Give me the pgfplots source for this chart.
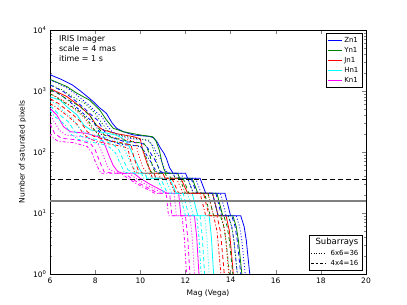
\documentclass[border=0pt]{standalone}
\usepackage{fontspec}
\setmainfont{DejaVu Sans}
\usepackage{pgfplots}
\pgfplotsset{compat=1.18}
\definecolor{mblue}{rgb}{0,0,1}
\definecolor{mgreen}{rgb}{0,0.5,0}
\definecolor{mred}{rgb}{1,0,0}
\definecolor{mcyan}{rgb}{0,1,1}
\definecolor{mmag}{rgb}{1,0,1}
\definecolor{mgray}{rgb}{0.5,0.5,0.5}
\tikzset{
  sol/.style={line width=0.8pt, solid},
  dt/.style={line width=0.8pt, dash pattern=on 1pt off 2pt},
  ds/.style={line width=0.8pt, dash pattern=on 4pt off 3pt},
  dd/.style={line width=0.8pt, dash pattern=on 3pt off 2pt on 1pt off 2pt},
}
\begin{document}
\begin{tikzpicture}[font=\fontsize{8}{9.6}\selectfont]
\path[use as bounding box] (-50pt,-31pt) rectangle (357pt,274pt);
\begin{axis}[
  at={(0,0)}, anchor=south west,
  scale only axis, width=316pt, height=244pt,
  xmin=6, xmax=20, ymin=1, ymax=10000, ymode=log,
  xtick={6,8,10,12,14,16,18,20}, xticklabels={6,8,10,12,14,16,18,20},
  ytick={1,10,100,1000,10000},
  yticklabels={10\textsuperscript{0},10\textsuperscript{1},10\textsuperscript{2},10\textsuperscript{3},10\textsuperscript{4}},
  tick label style={font=\fontsize{7.5}{9}\selectfont},
  label style={font=\fontsize{7.5}{9}\selectfont},
  xlabel={Mag (Vega)}, ylabel={Number of saturated pixels},
  tick align=inside, major tick length=4pt, minor tick length=2pt,
  axis line style={line width=0.8pt},
  legend style={at={(0.988,0.986)}, anchor=north east, font=\fontsize{7}{8}\selectfont,
    draw=black, line width=0.6pt, inner sep=1.5pt, row sep=-0.5pt},
  legend cell align=left,
  legend image code/.code={\draw[#1, line width=0.9pt] (0pt,0pt) -- (14pt,0pt);},
]
% ---------- Zn1 (blue)
\addplot[mblue, sol] coordinates {(6.0,1850)(6.5,1550)(7.0,1250)(7.35,1000)(7.9,680)(8.2,530)(8.5,430)(8.75,300)(8.95,245)(9.25,215)(9.7,190)(10.4,180)(10.6,170)(10.75,145)(10.9,115)(11.05,95)(11.15,80)(11.3,55)(11.45,45)(12.0,45)(12.1,37)(12.65,37)(12.9,21)(13.75,21)(14.0,9)(14.45,9)(14.6,6)(14.7,3.5)(14.8,1.5)(14.85,1)};
\addlegendentry{Zn1}
\addplot[mgreen, sol] coordinates {(6.0,1550)(6.75,1180)(7.2,915)(7.75,710)(8.2,490)(8.5,335)(8.8,245)(9.25,215)(10.0,190)(10.55,178)(10.7,150)(10.85,105)(10.95,70)(11.05,52)(11.15,45)(11.65,45)(11.75,37)(12.3,37)(12.55,21)(13.4,21)(13.65,9)(14.1,9)(14.25,6)(14.35,3.5)(14.45,1.5)(14.5,1)};
\addlegendentry{Yn1}
\addplot[mred, sol] coordinates {(6.0,1100)(6.75,810)(7.35,550)(7.75,405)(8.05,275)(8.35,230)(8.95,200)(9.7,178)(10.0,165)(10.1,110)(10.3,65)(10.5,45)(11.0,45)(11.1,37)(11.8,37)(12.1,21)(13.2,21)(13.45,9)(13.8,9)(13.95,5)(14.05,2)(14.12,1)};
\addlegendentry{Jn1}
\addplot[mcyan, sol] coordinates {(6.0,800)(6.45,710)(6.75,550)(7.2,405)(7.5,275)(7.8,230)(8.2,215)(8.9,190)(9.2,170)(9.45,138)(9.65,95)(9.85,65)(10.0,50)(10.1,45)(10.6,45)(10.7,37)(11.3,37)(11.6,21)(12.3,21)(12.55,9)(13.05,9)(13.15,4)(13.22,1.5)(13.25,1)};
\addlegendentry{Hn1}
\addplot[mmag, sol] coordinates {(6.0,520)(6.3,405)(6.6,260)(6.9,215)(7.6,203)(8.2,175)(8.4,140)(8.6,90)(8.8,60)(9.0,48)(9.2,45)(9.7,45)(10.0,37)(10.4,30)(10.9,24)(11.2,21)(11.7,21)(11.8,9)(12.4,9)(12.5,4)(12.57,1.5)(12.6,1)};
\addlegendentry{Kn1}
% ---------- variants blue
\addplot[mblue, dt, forget plot] coordinates {(6.0,1520)(6.3,1360)(6.8,1100)(7.15,880)(7.7,600)(8.0,465)(8.3,380)(8.55,265)(8.75,215)(9.05,190)(9.5,167)(10.2,158)(10.4,150)(10.55,128)(10.7,101)(10.85,84)(10.95,70)(11.1,50)(11.25,45)(11.8,45)(11.9,37)(12.45,37)(12.7,21)(13.55,21)(13.8,9)(14.25,9)(14.4,6)(14.5,3.5)(14.6,1.5)(14.65,1)};
\addplot[mblue, ds, forget plot] coordinates {(6.0,1260)(6.1,1210)(6.6,975)(6.95,780)(7.5,530)(7.8,415)(8.1,335)(8.35,235)(8.55,190)(8.85,168)(9.3,148)(10.0,140)(10.2,133)(10.35,113)(10.5,90)(10.65,74)(10.75,62)(10.9,48)(11.05,45)(11.6,45)(11.7,37)(12.25,37)(12.5,21)(13.35,21)(13.6,9)(14.05,9)(14.2,6)(14.3,3.5)(14.4,1.5)(14.45,1)};
\addplot[mblue, dd, forget plot] coordinates {(6.0,1065)(6.45,875)(6.8,700)(7.35,475)(7.65,370)(7.95,300)(8.2,210)(8.4,170)(8.7,150)(9.15,133)(9.85,126)(10.05,119)(10.2,101)(10.35,80)(10.5,66)(10.6,56)(10.75,46)(11.45,45)(11.55,37)(12.1,37)(12.35,21)(13.2,21)(13.45,9)(13.9,9)(14.05,6)(14.15,3.5)(14.25,1.5)(14.3,1)};
% ---------- variants green
\addplot[mgreen, dt, forget plot] coordinates {(6.0,1275)(6.55,1040)(7.0,805)(7.55,625)(8.0,430)(8.3,295)(8.6,215)(9.05,190)(9.8,167)(10.35,157)(10.5,132)(10.65,92)(10.75,62)(10.85,50)(10.95,45)(11.45,45)(11.55,37)(12.1,37)(12.35,21)(13.2,21)(13.45,9)(13.9,9)(14.05,6)(14.15,3.5)(14.25,1.5)(14.3,1)};
\addplot[mgreen, ds, forget plot] coordinates {(6.0,1050)(6.35,920)(6.8,715)(7.35,555)(7.8,380)(8.1,260)(8.4,190)(8.85,168)(9.6,148)(10.15,139)(10.3,117)(10.45,82)(10.55,55)(10.65,48)(10.75,45)(11.25,45)(11.35,37)(11.9,37)(12.15,21)(13.0,21)(13.25,9)(13.7,9)(13.85,6)(13.95,3.5)(14.05,1.5)(14.1,1)};
\addplot[mgreen, dd, forget plot] coordinates {(6.0,900)(6.2,825)(6.65,640)(7.2,500)(7.65,343)(7.95,235)(8.25,172)(8.7,150)(9.45,133)(10.0,125)(10.15,105)(10.3,74)(10.4,49)(10.6,45)(11.1,45)(11.2,37)(11.75,37)(12.0,21)(12.85,21)(13.1,9)(13.55,9)(13.7,6)(13.8,3.5)(13.9,1.5)(13.95,1)};
% ---------- variants red
\addplot[mred, dt, forget plot] coordinates {(6.0,905)(6.55,713)(7.15,484)(7.55,356)(7.85,242)(8.15,202)(8.75,176)(9.5,157)(9.8,145)(9.9,97)(10.1,57)(10.3,45)(10.8,45)(10.9,37)(11.6,37)(11.9,21)(13.0,21)(13.25,9)(13.6,9)(13.75,5)(13.85,2)(13.92,1)};
\addplot[mred, ds, forget plot] coordinates {(6.0,750)(6.35,632)(6.95,429)(7.35,316)(7.65,215)(7.95,180)(8.55,156)(9.3,139)(9.6,129)(9.7,86)(9.9,51)(10.1,45)(10.6,45)(10.7,37)(11.4,37)(11.7,21)(12.8,21)(13.05,9)(13.4,9)(13.55,5)(13.65,2)(13.72,1)};
\addplot[mred, dd, forget plot] coordinates {(6.0,615)(6.2,567)(6.8,385)(7.2,284)(7.5,193)(7.8,161)(8.4,140)(9.15,125)(9.45,116)(9.55,77)(9.75,46)(9.95,45)(10.45,45)(10.55,37)(11.25,37)(11.55,21)(12.65,21)(12.9,9)(13.25,9)(13.4,5)(13.5,2)(13.57,1)};
% ---------- variants cyan
\addplot[mcyan, dt, forget plot] coordinates {(6.0,670)(6.25,625)(6.55,484)(7.0,356)(7.3,242)(7.6,202)(8.0,189)(8.7,167)(9.0,150)(9.25,121)(9.45,84)(9.65,57)(9.8,50)(9.9,45)(10.4,45)(10.5,37)(11.1,37)(11.4,21)(12.1,21)(12.35,9)(12.85,9)(12.95,4)(13.02,1.5)(13.05,1)};
\addplot[mcyan, ds, forget plot] coordinates {(6.0,562)(6.05,554)(6.35,429)(6.8,316)(7.1,215)(7.4,180)(7.8,168)(8.5,148)(8.8,133)(9.05,108)(9.25,74)(9.45,51)(9.6,48)(9.7,45)(10.2,45)(10.3,37)(10.9,37)(11.2,21)(11.9,21)(12.15,9)(12.65,9)(12.75,4)(12.82,1.5)(12.85,1)};
\addplot[mcyan, dd, forget plot] coordinates {(6.0,476)(6.2,385)(6.65,284)(6.95,193)(7.25,161)(7.65,150)(8.35,133)(8.65,119)(8.9,97)(9.1,66)(9.3,46)(10.05,45)(10.15,37)(10.75,37)(11.05,21)(11.75,21)(12.0,9)(12.5,9)(12.6,4)(12.67,1.5)(12.7,1)};
% ---------- variants magenta
\addplot[mmag, dt, forget plot] coordinates {(6.0,390)(6.1,356)(6.4,229)(6.7,189)(7.4,179)(8.0,154)(8.2,123)(8.4,79)(8.6,53)(8.8,48)(9.0,45)(9.5,45)(9.8,37)(10.2,30)(10.7,24)(11.0,21)(11.5,21)(11.6,9)(12.2,9)(12.3,4)(12.37,1.5)(12.4,1)};
\addplot[mmag, ds, forget plot] coordinates {(6.0,290)(6.2,203)(6.5,168)(7.2,158)(7.8,137)(8.0,109)(8.2,70)(8.4,47)(8.6,46)(8.8,45)(9.3,45)(9.6,37)(10.0,30)(10.5,24)(10.8,21)(11.3,21)(11.4,9)(12.0,9)(12.1,4)(12.17,1.5)(12.2,1)};
\addplot[mmag, dd, forget plot] coordinates {(6.0,200)(6.05,180)(6.35,150)(7.05,142)(7.65,123)(7.85,98)(8.05,63)(8.25,45)(9.15,45)(9.45,37)(9.85,30)(10.35,24)(10.65,21)(11.15,21)(11.25,9)(11.85,9)(11.95,4)(12.02,1.5)(12.05,1)};
% ---------- subarray levels
\addplot[black, line width=0.9pt, dash pattern=on 5pt off 3pt, forget plot] coordinates {(6,36)(20,36)};
\addplot[mgray, line width=2pt, forget plot] coordinates {(6,16)(20,16)};
\node[anchor=north west, align=left, inner sep=0pt, font=\fontsize{8}{10}\selectfont] at (rel axis cs:0.028,0.976) {IRIS Imager\\scale = 4 mas\\itime = 1 s};
\end{axis}
\begin{axis}[
  at={(0,0)}, anchor=south west,
  scale only axis, width=316pt, height=244pt,
  hide axis, xmin=0, xmax=1, ymin=0, ymax=1,
  legend style={at={(0.988,0.014)}, anchor=south east, font=\fontsize{7}{8}\selectfont,
    draw=black, line width=0.6pt, inner sep=1.5pt, row sep=-0.5pt},
  legend cell align=right,
  legend image code/.code={\draw[#1, line width=0.7pt] (0pt,0pt) -- (14pt,0pt);},
]
\addlegendimage{empty legend}
\addlegendentry{\fontsize{8.5}{9}\selectfont\hspace{-12pt}Subarrays\hspace{4pt}}
\addlegendimage{black, dash pattern=on 1pt off 1.5pt}
\addlegendentry{6x6=36}
\addlegendimage{black, dash pattern=on 2.5pt off 2pt}
\addlegendentry{4x4=16}
\end{axis}
\end{tikzpicture}
\end{document}
